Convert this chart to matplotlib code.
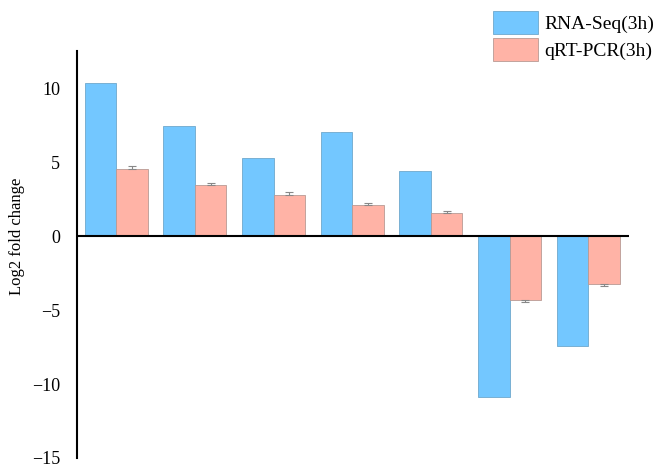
import numpy as np
import matplotlib
matplotlib.use("Agg")
import matplotlib.pyplot as plt

plt.rcParams['font.family'] = ['Liberation Serif', 'DejaVu Serif']

# log2 fold change per gene, 3h time point
rna_seq = [10.37, 7.47, 5.34, 7.06, 4.41, -10.86, -7.40]
qrt_pcr = [4.55, 3.51, 2.80, 2.10, 1.61, -4.30, -3.21]
qrt_err = [0.22, 0.14, 0.18, 0.14, 0.14, 0.11, 0.14]

x = np.arange(len(rna_seq))
w = 0.4

fig = plt.figure(figsize=(6.58, 4.67), dpi=100)
ax = fig.add_axes([0.117, 0.0193, 0.839, 0.8717])

ax.bar(x - w / 2, rna_seq, w, color='#73C7FF', edgecolor='#6FA8CC',
       linewidth=0.6, label='RNA-Seq(3h)', zorder=2)
ax.bar(x + w / 2, qrt_pcr, w, color='#FFB3A6', edgecolor='#B89A94',
       linewidth=0.6, label='qRT-PCR(3h)', zorder=2)

# error bars only point away from zero
err = np.array(qrt_err)
lower = np.where(np.array(qrt_pcr) < 0, err, 0)
upper = np.where(np.array(qrt_pcr) > 0, err, 0)
ax.errorbar(x + w / 2, qrt_pcr, yerr=[lower, upper], fmt='none',
            ecolor='#888888', elinewidth=0.8, capsize=3, capthick=0.8, zorder=3)

ax.axhline(0, color='black', linewidth=1.5, zorder=4)

ax.set_xlim(-0.5, 6.52)
ax.set_ylim(-15, 12.56)
ax.set_yticks([-15, -10, -5, 0, 5, 10])
ax.set_xticks([])

for s in ['top', 'right', 'bottom']:
    ax.spines[s].set_visible(False)
ax.spines['left'].set_linewidth(1.5)
ax.tick_params(axis='y', length=0, pad=12, labelsize=13)

ax.set_ylabel('Log2 fold change', fontsize=12)
ax.yaxis.set_label_coords(-0.094, 15 / 27.56)

ax.legend(loc='upper left', bbox_to_anchor=(493 / 658, 1 - 11 / 467),
          bbox_transform=fig.transFigure, frameon=False, fontsize=14,
          handlelength=2.3, handleheight=1.45, handletextpad=0.35,
          labelspacing=0.2, borderpad=0, borderaxespad=0)

fig.savefig('out.png', dpi=100)
